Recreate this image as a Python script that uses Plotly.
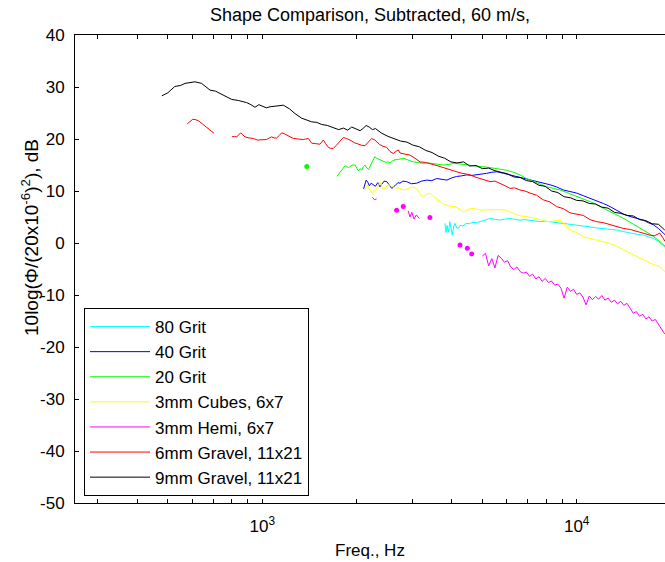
import plotly.graph_objects as go

# ---- data: frequency (Hz) and level (dB) per surface ----
grit80_f = [3810, 3840, 3870, 3910, 3950, 3985, 4020, 4060, 4100, 4150, 4200, 4260, 4350, 4450,
            4560, 4680, 4800, 4926, 5050, 5180, 5300, 5450, 5700, 5900, 6138, 6400, 6602, 6850,
            7103, 7400, 7643, 7950, 8222, 8600, 9057, 9500, 10000, 10500, 11015, 11580, 12160,
            12770, 13400, 14060, 14760, 15500, 16290, 16900, 17540, 18200, 18800, 19100]
grit80_db = [3.8, 2.0, 3.4, 2.1, 4.1, 2.6, 1.5, 3.1, 3.8, 2.9, 2.8, 3.4, 3.3, 3.8,
             3.7, 4.0, 3.9, 4.1, 4.3, 4.5, 4.7, 4.6, 4.4, 4.6, 4.7, 4.5, 4.4, 4.5,
             4.4, 4.2, 4.1, 4.2, 4.1, 3.9, 3.8, 3.6, 3.5, 3.3, 3.1, 2.9, 2.8,
             2.6, 2.5, 2.2, 1.9, 1.7, 1.5, 1.2, 0.9, 0.3, -0.4, -0.8]

grit40_f = [2100, 2120, 2140, 2165, 2190, 2220, 2254, 2290, 2330, 2366, 2400, 2440, 2489, 2530,
            2582, 2640, 2700, 2742, 2800, 2877, 2980, 3097, 3210, 3334, 3460, 3589, 3720, 3864,
            4000, 4150, 4300, 4467, 4640, 4808, 5000, 5176, 5370, 5572, 5850, 6138, 6440, 6761,
            7100, 7464, 7830, 8222, 8620, 9057, 9520, 10000, 10490, 11015, 11570, 12160, 12770,
            13400, 14060, 14760, 15500, 16290, 16900, 17540, 18200, 18840, 19100]
grit40_db = [10.4, 11.4, 12.1, 11.7, 11.0, 11.5, 11.2, 10.9, 11.6, 10.8, 11.3, 11.9, 11.8, 11.1,
             10.5, 11.0, 11.6, 11.5, 11.9, 11.8, 11.4, 11.5, 11.9, 12.1, 12.0, 12.4, 12.2, 12.1,
             12.5, 12.8, 12.9, 13.1, 13.0, 13.1, 13.3, 13.4, 13.6, 13.7, 13.4, 13.1, 12.8, 12.4,
             12.1, 11.8, 11.5, 11.2, 10.8, 10.2, 9.9, 9.6, 9.1, 8.6, 8.2, 7.6, 7.0,
             6.3, 5.6, 5.1, 4.7, 4.4, 3.9, 3.5, 2.8, 1.9, 1.6]

grit20_dot_f = [1385]
grit20_dot_db = [14.7]
grit20_f = [1727, 1760, 1800, 1830, 1854, 1880, 1900, 1930, 1972, 2000, 2020, 2050, 2070, 2100,
            2121, 2150, 2180, 2220, 2260, 2281, 2311, 2350, 2390, 2426, 2470, 2510, 2548, 2600,
            2643, 2720, 2808, 2900, 3020, 3120, 3250, 3360, 3501, 3630, 3767, 3900, 4056, 4250,
            4470, 4700, 4926, 5170, 5430, 5700, 5980, 6300, 6602, 6918, 7280, 7650, 8030, 8430,
            8850, 9300, 9750, 10250, 10760, 11300, 11860, 12450, 13070, 13720, 14410, 15130,
            15890, 16600, 17330, 18100, 18890, 19100]
grit20_db = [12.8, 13.4, 14.2, 14.8, 14.8, 14.4, 14.7, 15.0, 15.0, 14.4, 13.9, 14.3, 14.0, 14.7,
             15.0, 14.4, 14.1, 15.2, 16.2, 16.6, 16.3, 16.1, 15.8, 15.6, 15.5, 15.6, 15.4, 15.8,
             16.0, 16.1, 16.3, 16.0, 15.6, 15.5, 15.3, 15.4, 15.3, 15.2, 15.0, 15.1, 15.3, 15.2,
             15.0, 14.9, 14.7, 14.6, 14.4, 14.3, 14.0, 13.6, 13.1, 12.4, 11.8, 11.3, 10.8, 10.5,
             10.2, 9.7, 9.2, 8.8, 8.3, 7.7, 7.0, 6.4, 5.7, 5.1, 4.4, 3.6,
             2.8, 2.2, 1.5, 0.6, -0.4, -0.6]

cubes_f = [2120, 2140, 2160, 2190, 2220, 2250, 2280, 2310, 2340, 2370, 2400, 2430, 2470, 2520,
           2580, 2650, 2740, 2810, 2880, 2950, 3020, 3100, 3180, 3250, 3330, 3400, 3480, 3560,
           3650, 3780, 3950, 4100, 4250, 4365, 4500, 4640, 4800, 5000, 5180, 5360, 5580, 5760,
           5990, 6200, 6440, 6650, 6940, 7200, 7460, 7750, 8040, 8400, 8860, 9100, 9530, 10000,
           10500, 11000, 11580, 12100, 12770, 13400, 14080, 14800, 15530, 16300, 17120, 17700,
           18400, 19100]
cubes_db = [10.2, 10.8, 11.2, 10.4, 9.8, 9.6, 10.3, 10.5, 11.0, 11.8, 10.9, 10.2, 10.7, 11.2,
            10.9, 10.6, 10.5, 10.2, 10.4, 10.6, 10.8, 10.4, 9.4, 8.9, 9.4, 9.6, 9.2, 8.6,
            8.1, 7.4, 7.1, 7.0, 6.5, 6.0, 6.4, 6.7, 6.5, 6.3, 6.4, 6.4, 6.5, 6.4,
            6.3, 5.9, 5.4, 5.2, 5.1, 4.9, 4.7, 4.4, 4.1, 4.2, 4.4, 3.7, 2.5, 2.0,
            1.2, 0.9, 0.6, 0.3, -0.1, -0.6, -1.3, -2.0, -2.6, -3.2, -3.9, -4.2,
            -4.6, -5.5]

# hemispheres: broken line (gaps where no valid level) plus isolated points
hemi_f = [2240, 2275, 2310, None,
          2910, 2950, 2990, 3040, 3090, 3160, None,
          5012, 5129, 5248, 5370, 5495, 5623, 5754, 5888, 6026, 6166, 6310, 6457, 6607, 6761,
          6918, 7079, 7244, 7413, 7586, 7762, 7943, 8128, 8318, 8511, 8710, 8913, 9120, 9333,
          9550, 9772, 10000, 10233, 10471, 10715, 10965, 11220, 11482, 11749, 12023, 12303,
          12589, 12882, 13183, 13490, 13804, 14125, 14454, 14791, 15136, 15488, 15849, 16218,
          16596, 16982, 17378, 17783, 18197, 18621, 19055]
hemi_db = [8.8, 8.3, 8.5, None,
           6.2, 5.0, 5.9, 4.6, 5.4, 4.7, None,
           -2.5, -2.0, -4.4, -3.0, -4.8, -2.4, -2.9, -3.7, -3.4, -4.6, -5.1, -4.6, -5.5, -5.8,
           -5.6, -6.4, -6.0, -6.9, -6.5, -7.4, -6.8, -7.6, -7.3, -8.1, -7.9, -8.7, -10.6, -8.5,
           -9.3, -8.9, -9.9, -9.6, -10.4, -11.9, -10.2, -10.9, -10.3, -10.8, -10.1, -11.0,
           -10.6, -11.4, -11.0, -11.7, -11.2, -12.0, -11.6, -12.5, -13.5, -13.2, -14.1, -13.7,
           -14.6, -14.2, -15.0, -14.7, -15.6, -16.4, -17.5]
hemi_dot_f = [2675, 2808, 3414, 4256, 4490, 4634]
hemi_dot_db = [6.3, 7.0, 4.9, -0.4, -1.0, -2.1]

gravel6_f = [577, 590, 601, 615, 627, 645, 666, 685, 702, None,
             800, 815, 829, 841, 854, 867, 881, 908, 936, 965, 995, 1013, 1032, 1052, 1071,
             1090, 1111, 1133, 1153, 1175, 1196, 1225, 1256, 1300, 1350, 1375, 1401, 1420, 1436,
             1480, 1526, 1545, 1564, 1590, 1622, 1650, 1683, 1715, 1746, 1780, 1811, 1850, 1901,
             1960, 2020, 2070, 2121, 2180, 2227, 2281, 2320, 2365, 2420, 2486, 2548, 2612, 2660,
             2709, 2742, 2830, 2950, 3060, 3175, 3300, 3416, 3540, 3676, 3810, 3955, 4100, 4256,
             4420, 4579, 4750, 4926, 5110, 5300, 5500, 5703, 5920, 6136, 6350, 6602, 6850, 7103,
             7450, 7827, 8220, 8634, 9070, 9525, 10000, 10500, 11020, 11580, 12170, 12770, 13400,
             14080, 14800, 15530, 16310, 17120, 17700, 18390, 18800, 19100]
gravel6_db = [22.9, 23.4, 23.8, 23.7, 23.5, 22.9, 22.2, 21.6, 21.1, None,
              20.4, 20.5, 20.4, 20.9, 21.2, 20.8, 20.4, 20.2, 20.1, 19.8, 19.8, 19.9, 19.9, 20.2, 20.4,
              20.2, 20.2, 20.7, 21.2, 21.0, 20.8, 20.4, 20.1, 20.0, 19.9, 20.0, 20.1, 19.6, 19.2,
              19.1, 19.0, 19.4, 19.8, 19.1, 18.4, 18.2, 18.2, 18.7, 19.2, 19.8, 20.3, 20.1, 19.8,
              19.3, 19.0, 18.8, 18.7, 19.4, 20.1, 19.8, 19.3, 18.9, 18.6, 18.4, 17.6, 17.2, 17.6,
              17.9, 17.3, 17.1, 16.9, 16.3, 15.6, 15.5, 15.3, 15.0, 14.7, 14.4, 14.0, 13.8, 13.5,
              13.3, 13.1, 12.7, 12.4, 12.1, 11.8, 11.9, 11.5, 11.0, 10.5, 10.6, 10.2, 10.0, 9.6,
              9.2, 8.3, 7.9, 7.0, 6.6, 5.8, 5.5, 5.3, 4.5, 4.1, 3.9, 3.5, 3.1,
              2.8, 2.6, 2.2, 1.9, 1.5, 1.4, 1.9, 1.0, 0.3]

gravel9_f = [479, 501, 527, 550, 568, 590, 611, 641, 660, 682, 710, 733, 765, 800, 840, 892, 920,
             948, 975, 1007, 1030, 1059, 1110, 1167, 1220, 1270, 1334, 1380, 1436, 1490, 1545,
             1610, 1683, 1750, 1811, 1870, 1925, 1985, 2047, 2089, 2140, 2188, 2240, 2291, 2350,
             2399, 2512, 2630, 2754, 2884, 3020, 3162, 3311, 3467, 3631, 3802, 3981, 4169, 4365,
             4571, 4786, 5012, 5248, 5495, 5754, 6026, 6310, 6607, 6918, 7244, 7586, 7943, 8318,
             8710, 9120, 9550, 10000, 10471, 10965, 11482, 12023, 12589, 13183, 13804, 14454,
             15136, 15849, 16596, 17378, 18197, 19055]
gravel9_db = [28.3, 28.9, 30.1, 30.3, 30.7, 30.9, 31.0, 30.7, 30.1, 29.4, 29.2, 28.8, 28.3, 27.6,
              27.4, 27.0, 26.6, 26.1, 26.6, 26.3, 26.0, 26.2, 26.3, 26.5, 25.8, 24.9, 24.0, 23.7,
              23.3, 23.2, 22.8, 22.6, 22.2, 21.8, 22.1, 21.7, 22.3, 21.9, 21.6, 22.0, 22.6, 22.3,
              21.8, 22.0, 21.5, 21.1, 20.5, 20.1, 19.6, 19.4, 18.8, 18.5, 17.8, 17.4, 16.7, 16.3,
              15.6, 15.4, 15.6, 14.8, 14.9, 14.3, 14.4, 13.9, 13.6, 13.3, 12.7, 12.6, 12.0, 11.8,
              11.1, 10.9, 10.0, 9.7, 8.9, 8.7, 8.2, 8.1, 7.6, 7.5, 6.9, 6.7, 5.9, 5.7, 5.3, 5.2,
              4.5, 4.3, 3.7, 3.6, 2.5]

# ---- axis ticks ----
x_minor_ticks = [300, 400, 500, 600, 700, 800, 900, 1000, 2000, 3000, 4000, 5000, 6000,
                 7000, 8000, 9000, 10000]
x_tick_text = ["", "", "", "", "", "", "", "10<sup>3</sup>", "", "", "", "", "", "",
               "", "", "10<sup>4</sup>"]
y_ticks = [-50, -40, -30, -20, -10, 0, 10, 20, 30, 40]
y_tick_text = ["-50", "-40", "-30", "-20", "-10", "0", "10", "20", "30", "40"]

FONT = "Liberation Sans, Arial, Helvetica, sans-serif"

series = [
    ("80 Grit", "#00FFFF", grit80_f, grit80_db, None, None),
    ("40 Grit", "#0000FF", grit40_f, grit40_db, None, None),
    ("20 Grit", "#00FF00", grit20_f, grit20_db, grit20_dot_f, grit20_dot_db),
    ("3mm Cubes, 6x7", "#FFFF00", cubes_f, cubes_db, None, None),
    ("3mm Hemi, 6x7", "#FF00FF", hemi_f, hemi_db, hemi_dot_f, hemi_dot_db),
    ("6mm Gravel, 11x21", "#FF0000", gravel6_f, gravel6_db, None, None),
    ("9mm Gravel, 11x21", "#000000", gravel9_f, gravel9_db, None, None),
]

fig = go.Figure()
for name, color, fx, fy, dx, dy in series:
    fig.add_trace(go.Scatter(
        x=fx, y=fy, mode="lines", name=name, legendgroup=name,
        line=dict(color=color, width=1), connectgaps=False,
    ))
    if dx is not None:
        fig.add_trace(go.Scatter(
            x=dx, y=dy, mode="markers", legendgroup=name, showlegend=False,
            marker=dict(color=color, size=5, line=dict(width=0)),
        ))

fig.update_layout(
    width=665, height=562,
    margin=dict(l=75, r=0, t=35, b=59),
    paper_bgcolor="white", plot_bgcolor="white",
    font=dict(family=FONT, size=17, color="black"),
    title=dict(text="Shape Comparison, Subtracted, 60 m/s,", x=0.5, xref="paper",
               xanchor="center", y=1 - 15 / 562, yref="container", yanchor="middle",
               font=dict(family=FONT, size=18, color="black")),
    showlegend=True,
    legend=dict(x=0.0153, y=(503 - 496) / 468, xanchor="left", yanchor="bottom",
                bgcolor="white", bordercolor="black", borderwidth=1,
                font=dict(family=FONT, size=17, color="black"),
                itemwidth=60, tracegroupgap=0),
    # right-hand frame ticks (no line), sharing the left scale
    yaxis2=dict(overlaying="y", side="right", matches="y", range=[-50, 40],
                tickvals=y_ticks, ticks="inside", ticklen=4, tickcolor="black",
                showticklabels=False, showline=False, showgrid=False, zeroline=False),
)

fig.update_xaxes(
    type="log", range=[2.4043, 4.2809],
    tickvals=x_minor_ticks, ticktext=x_tick_text,
    ticks="inside", ticklen=4, tickcolor="black",
    showline=True, linecolor="black", linewidth=1, mirror="ticks",
    showgrid=False, zeroline=False,
    tickfont=dict(family=FONT, size=17, color="black"),
    ticklabelstandoff=8,
)
fig.update_layout(yaxis=dict(
    range=[-50, 40], tickvals=y_ticks, ticktext=y_tick_text,
    ticks="inside", ticklen=4, tickcolor="black",
    showline=True, linecolor="black", linewidth=1, mirror=False,
    showgrid=False, zeroline=False,
    tickfont=dict(family=FONT, size=17, color="black"),
    ticklabelstandoff=6,
))

# axis labels
fig.add_annotation(text="Freq., Hz", xref="paper", yref="paper",
                   x=0.5, y=(503 - 550) / 468, xanchor="center", yanchor="middle",
                   showarrow=False, font=dict(family=FONT, size=17, color="black"))
fig.add_annotation(text="10log(Φ/(20x10<sup>-6</sup>)<sup>2</sup>), dB",
                   xref="paper", yref="paper", x=(30 - 75) / 590, y=(503 - 238) / 468,
                   xanchor="center", yanchor="middle", textangle=-90,
                   showarrow=False, font=dict(family=FONT, size=19, color="black"))

fig.write_html("out.html")
